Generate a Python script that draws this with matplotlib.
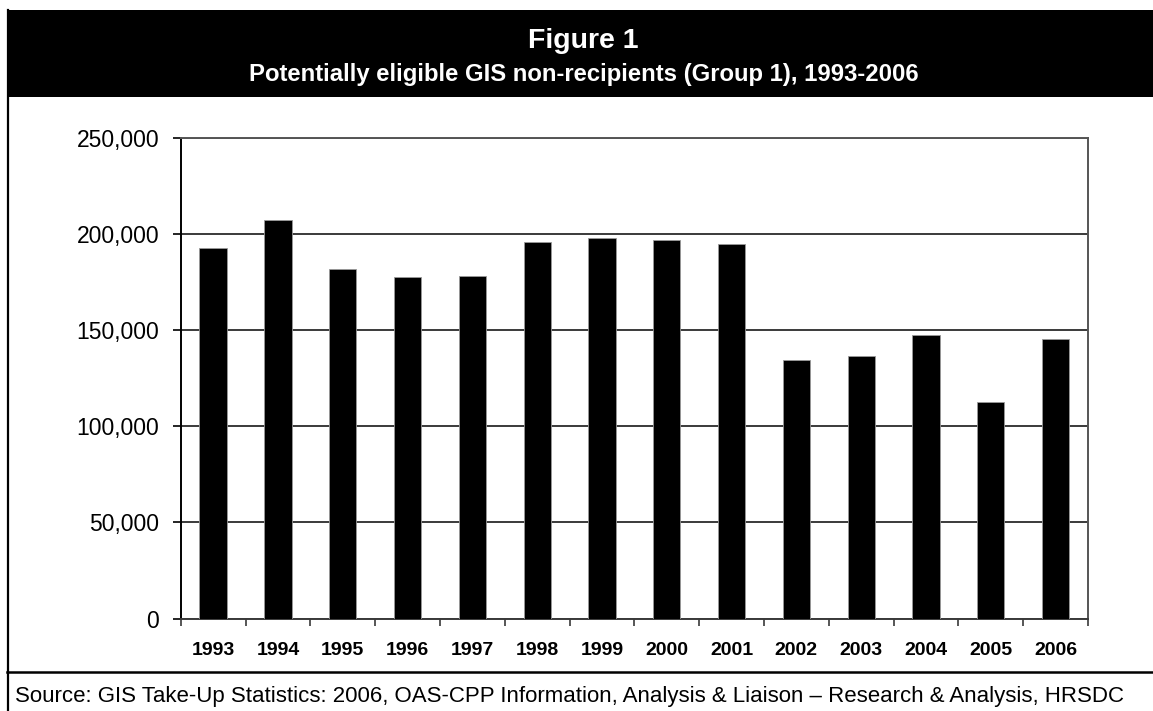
import matplotlib.pyplot as plt
from matplotlib.patches import Rectangle
from matplotlib.lines import Line2D
from matplotlib.ticker import FuncFormatter
import numpy as np

plt.rcParams['font.family'] = ['Liberation Sans', 'DejaVu Sans']

years = ['1993', '1994', '1995', '1996', '1997', '1998', '1999',
         '2000', '2001', '2002', '2003', '2004', '2005', '2006']
non_recipients = [193000, 207300, 182100, 177800, 178300, 196100, 198200,
                  197000, 195000, 134700, 136600, 147600, 112800, 145500]

W, H = 1153, 711
fig = plt.figure(figsize=(W / 100, H / 100), dpi=100)

# frame: black header band, left edge, footer rule
fig.patches.append(Rectangle((7 / W, 1 - 97 / H), 1.0, 87 / H, transform=fig.transFigure,
                             facecolor='black', edgecolor='none', zorder=0))
fig.add_artist(Line2D([8 / W, 8 / W], [0, 1 - 10 / H], transform=fig.transFigure,
                      color='black', linewidth=1.6))
fig.add_artist(Line2D([7 / W, 1.0], [1 - 672 / H, 1 - 672 / H], transform=fig.transFigure,
                      color='black', linewidth=1.8))

fig.text(0.506, 1 - 48 / H, 'Figure 1', color='white', fontsize=20.5, fontweight='bold',
         ha='center', va='baseline')
fig.text(0.506, 1 - 81 / H, 'Potentially eligible GIS non-recipients (Group 1), 1993-2006',
         color='white', fontsize=17.2, fontweight='bold', ha='center', va='baseline')
fig.text(15 / W, 1 - 702 / H,
         'Source: GIS Take-Up Statistics: 2006, OAS-CPP Information, Analysis & Liaison \u2013 '
         'Research & Analysis, HRSDC', fontsize=16.0, ha='left', va='baseline')

ax = fig.add_axes([180.7 / W, 1 - 618.5 / H, (1088 - 180.7) / W, (618.5 - 138.3) / H])
x = np.arange(len(years))
ax.bar(x, non_recipients, width=0.42, color='black', edgecolor='#9a9a9a', linewidth=0.6, zorder=3)

ax.set_xlim(-0.5, len(years) - 0.5)
ax.set_ylim(0, 250000)
ax.set_yticks(np.arange(0, 250001, 50000))
ax.yaxis.set_major_formatter(FuncFormatter(lambda v, p: f'{int(v):,}'))
ax.grid(axis='y', color='#3a3a3a', linewidth=1.4, zorder=1)

ax.set_xticks(x)
ax.set_xticklabels(years, fontweight='bold', fontsize=14)
ax.set_xticks(np.arange(-0.5, len(years), 1.0), minor=True)
ax.tick_params(axis='x', which='major', length=0, pad=17)
ax.tick_params(axis='x', which='minor', length=5, width=1.2, direction='out', color='#3a3a3a')
ax.tick_params(axis='y', length=5.5, width=1.2, direction='out', labelsize=16.5, pad=10)

for side in ['top', 'right']:
    ax.spines[side].set_color('#555555')
    ax.spines[side].set_linewidth(1.4)
ax.spines['left'].set_linewidth(1.4)
ax.spines['bottom'].set_color('#3a3a3a')
ax.spines['bottom'].set_linewidth(1.4)

fig.savefig('out.png', dpi=100)
